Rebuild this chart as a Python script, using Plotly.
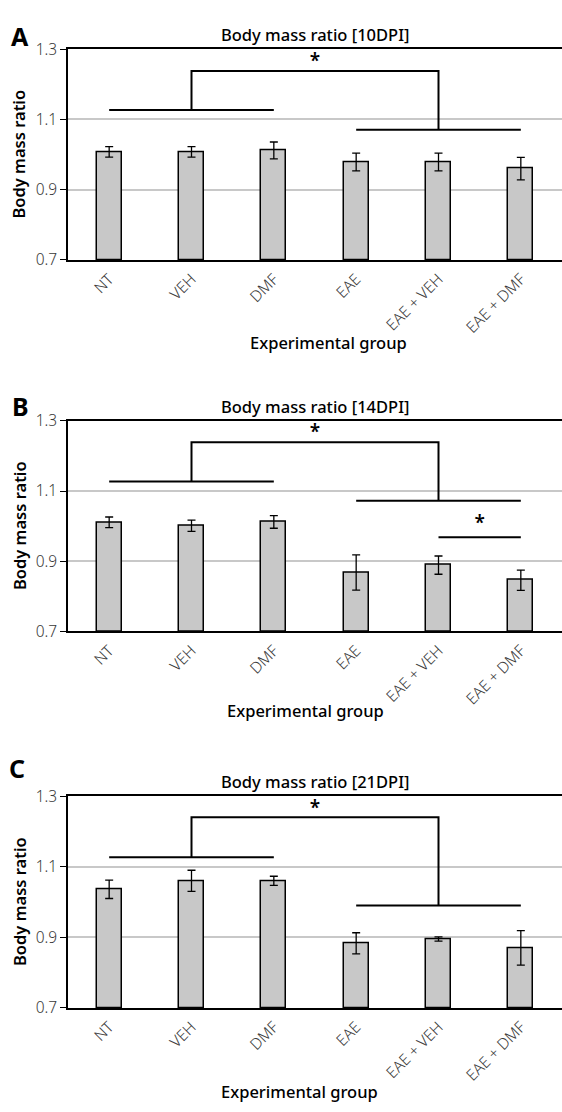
import plotly.graph_objects as go

categories = ["NT", "VEH", "DMF", "EAE", "EAE + VEH", "EAE + DMF"]

mean_10dpi = [1.008, 1.008, 1.012, 0.979, 0.979, 0.960]
err_10dpi = [0.015, 0.015, 0.024, 0.025, 0.025, 0.032]
mean_14dpi = [1.011, 1.001, 1.012, 0.868, 0.889, 0.846]
err_14dpi = [0.015, 0.016, 0.018, 0.050, 0.026, 0.029]
mean_21dpi = [1.036, 1.060, 1.060, 0.883, 0.895, 0.870]
err_21dpi = [0.026, 0.030, 0.013, 0.030, 0.006, 0.049]

panel_titles = ["Body mass ratio [10DPI]", "Body mass ratio [14DPI]", "Body mass ratio [21DPI]"]
panel_letters = ["A", "B", "C"]
y_ticks = [0.7, 0.9, 1.1, 1.3]

# significance brackets: [left group level, top level, right group level]
bracket_10dpi = [1.127, 1.238, 1.071]
bracket_14dpi = [1.127, 1.239, 1.072]
bracket_21dpi = [1.127, 1.240, 0.990]
star_10dpi = 1.262
star_14dpi = 1.265
star_21dpi = 1.264
# extra pair in 14DPI: EAE + VEH vs EAE + DMF
pair_14dpi = [4, 5]
pair_level_14dpi = 0.968
pair_star_14dpi = 1.004

means = [mean_10dpi, mean_14dpi, mean_21dpi]
errs = [err_10dpi, err_14dpi, err_21dpi]
brackets = [bracket_10dpi, bracket_14dpi, bracket_21dpi]
stars = [star_10dpi, star_14dpi, star_21dpi]

W, H = 562, 1112
plot_tops = [38, 417, 800]
plot_bottoms = [253, 632, 1016]
x_left, x_right = 68, 562

FONT = "Noto Sans"
fig = go.Figure()
xpos = list(range(len(categories)))

def py(v):
    return 1 - v / H

for i in range(3):
    xa = "x" if i == 0 else f"x{i+1}"
    ya = "y" if i == 0 else f"y{i+1}"
    fig.add_trace(go.Bar(
        x=xpos, y=[m - 0.7 for m in means[i]], base=0.7,
        width=0.3,
        marker=dict(color="#c8c8c8", line=dict(color="black", width=1.5)),
        error_y=dict(type="data", array=errs[i], color="black", thickness=1.3, width=4),
        xaxis=xa, yaxis=ya, showlegend=False, hoverinfo="skip",
    ))
    lv = brackets[i]
    line_style = dict(color="black", width=2)
    fig.add_trace(go.Scatter(x=[xpos[0], xpos[2]], y=[lv[0], lv[0]], mode="lines",
                             line=line_style, xaxis=xa, yaxis=ya, showlegend=False, hoverinfo="skip"))
    fig.add_trace(go.Scatter(x=[xpos[1], xpos[1], xpos[4], xpos[4]], y=[lv[0], lv[1], lv[1], lv[2]],
                             mode="lines", line=line_style, xaxis=xa, yaxis=ya, showlegend=False, hoverinfo="skip"))
    fig.add_trace(go.Scatter(x=[xpos[3], xpos[5]], y=[lv[2], lv[2]], mode="lines",
                             line=line_style, xaxis=xa, yaxis=ya, showlegend=False, hoverinfo="skip"))
    fig.add_trace(go.Scatter(x=[(xpos[2] + xpos[3]) / 2], y=[stars[i]], mode="text", text=["*"],
                             textfont=dict(family=FONT, size=19, color="black", weight=600),
                             textposition="middle center",
                             xaxis=xa, yaxis=ya, showlegend=False, hoverinfo="skip"))
    if i == 1:
        fig.add_trace(go.Scatter(x=pair_14dpi, y=[pair_level_14dpi] * 2, mode="lines",
                                 line=line_style, xaxis=xa, yaxis=ya, showlegend=False, hoverinfo="skip"))
        fig.add_trace(go.Scatter(x=[sum(pair_14dpi) / 2], y=[pair_star_14dpi], mode="text", text=["*"],
                                 textfont=dict(family=FONT, size=19, color="black", weight=600),
                                 textposition="middle center",
                                 xaxis=xa, yaxis=ya, showlegend=False, hoverinfo="skip"))

layout = dict(
    width=W, height=H, margin=dict(l=0, r=0, t=0, b=0),
    paper_bgcolor="white", plot_bgcolor="white",
    font=dict(family=FONT, color="black"),
    bargap=0, annotations=[],
)
for i in range(3):
    xk = "xaxis" if i == 0 else f"xaxis{i+1}"
    yk = "yaxis" if i == 0 else f"yaxis{i+1}"
    ya = "y" if i == 0 else f"y{i+1}"
    xa = "x" if i == 0 else f"x{i+1}"
    layout[xk] = dict(
        domain=[x_left / W, x_right / W], anchor=ya,
        range=[-0.5, 5.5], tickmode="array", tickvals=xpos, ticktext=categories,
        tickangle=-45, showgrid=False, zeroline=False,
        showline=True, linecolor="black", linewidth=2, mirror=True,
        ticks="", ticklabelstandoff=2,
        tickfont=dict(family=FONT, size=15.5, color="#3a3a3a", weight=300),
    )
    layout[yk] = dict(
        domain=[py(plot_bottoms[i]), py(plot_tops[i])], anchor=xa,
        range=[0.7, 1.3], tickmode="array", tickvals=y_ticks, ticktext=[f"{t:.1f}" for t in y_ticks],
        showgrid=True, gridcolor="#c8c8c8", gridwidth=1.5, zeroline=False,
        showline=True, linecolor="black", linewidth=1.5,
        ticks="outside", ticklen=6, tickcolor="black", tickwidth=1,
        tickfont=dict(family=FONT, size=15.5, color="#3a3a3a", weight=300),
    )
    layout["annotations"] += [
        dict(text=panel_titles[i], x=(x_left + x_right) / 2 / W, y=py(plot_tops[i] - 15),
             xref="paper", yref="paper", showarrow=False, xanchor="center", yanchor="middle",
             font=dict(family=FONT, size=16.5, weight=500)),
        dict(text=panel_letters[i], x=[20, 20, 17][i] / W, y=py([24, 402, 771][i]),
             xref="paper", yref="paper", showarrow=False, xanchor="center", yanchor="middle",
             font=dict(family=FONT, size=25, weight=700)),
        dict(text="Body mass ratio", x=19 / W, y=py((plot_tops[i] + plot_bottoms[i]) / 2),
             xref="paper", yref="paper", showarrow=False, xanchor="center", yanchor="middle",
             textangle=-90, font=dict(family=FONT, size=16.5, weight=600)),
        dict(text="Experimental group", x=[328, 305, 299][i] / W, y=py([337, 713, 1101][i]),
             xref="paper", yref="paper", showarrow=False, xanchor="center", yanchor="middle",
             font=dict(family=FONT, size=16.5, weight=500)),
    ]

fig.update_layout(**layout)
fig.write_html("out.html")
